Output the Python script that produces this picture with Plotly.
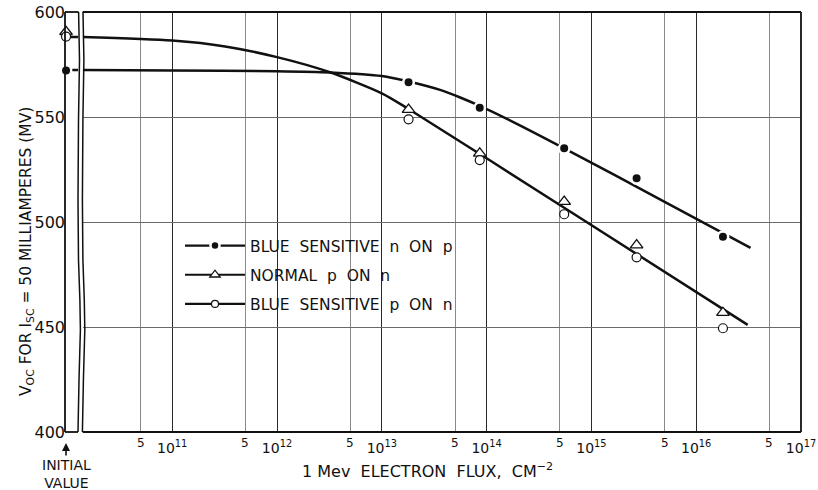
import numpy as np
import plotly.graph_objects as go

# Measured Voc (mV) after 1 MeV electron irradiation, flux in cm^-2
flux_pts = [1.8e13, 8.6e13, 5.5e14, 2.7e15, 1.8e16]
voc_blue_np = [566.5, 554.4, 535.1, 520.8, 493.0]
voc_normal_pn = [553.5, 532.7, 509.7, 489.0, 456.8]
voc_blue_pn = [548.9, 529.5, 503.7, 483.2, 449.4]

# Unirradiated (initial) Voc values, mV
init_blue_np = 572.1
init_normal_pn = 590.6
init_blue_pn = 588.3

# Faired degradation curves
fit_np_flux = [1.4e10, 1e11, 1e12, 3.2e12, 1e13, 1.8e13, 3.6e13, 5.6e13, 8.7e13,
               1.8e14, 5.5e14, 4.8e15, 3.3e16]
fit_np_voc = [572.4, 572.1, 571.8, 571.2, 569.5, 566.9, 562.9, 559.3, 555.2,
              547.6, 535.1, 510.1, 487.7]
fit_pn_flux = [1.4e10, 1e11, 3.2e11, 1e12, 3.2e12, 1e13, 1.74e13, 5.5e14, 3.1e16]
fit_pn_voc = [588.1, 586.4, 583.6, 578.5, 571.3, 561.3, 554.3, 506.8, 451.0]

# Axis ticks
decade_exps = [11, 12, 13, 14, 15, 16, 17]
five_vals = [5e10, 5e11, 5e12, 5e13, 5e14, 5e15, 5e16]
y_ticks = [400, 450, 500, 550, 600]

SP = "\u00a0\u00a0"
series_names = [
    f"BLUE{SP}SENSITIVE{SP}n{SP}ON{SP}p",
    f"NORMAL{SP}p{SP}ON{SP}n",
    f"BLUE{SP}SENSITIVE{SP}p{SP}ON{SP}n",
]

FONT = "DejaVu Sans"
INK = "#111111"

# Page geometry (pixels)
W, H = 818, 490
PX_L, PX_R, PX_T, PX_B = 65, 801, 12, 432
pw, ph = PX_R - PX_L, PX_B - PX_T


def fx(px):
    return (px - PX_L) / pw


def fy(py):
    return (PX_B - py) / ph


main_left = 82.7
box_right = 78.3
x_lo = 17 - (PX_R - main_left) / 104.8

fig = go.Figure()

line_style = dict(color=INK, width=2.5, shape="spline", smoothing=0.7)
fig.add_trace(go.Scatter(x=fit_np_flux, y=fit_np_voc, mode="lines",
                         line=line_style, showlegend=False, hoverinfo="skip"))
fig.add_trace(go.Scatter(x=fit_pn_flux, y=fit_pn_voc, mode="lines",
                         line=line_style, showlegend=False, hoverinfo="skip"))

# short lead-ins of the curves inside the initial-value strip
fig.add_trace(go.Scatter(x=[0.55, 1.0], y=[fit_np_voc[0]] * 2, mode="lines",
                         xaxis="x2", yaxis="y2", line=dict(color=INK, width=2.5),
                         showlegend=False, hoverinfo="skip"))
fig.add_trace(go.Scatter(x=[0.25, 1.0], y=[fit_pn_voc[0]] * 2, mode="lines",
                         xaxis="x2", yaxis="y2", line=dict(color=INK, width=2.5),
                         showlegend=False, hoverinfo="skip"))

m_dot = dict(symbol="circle", size=10.5, color=INK, line=dict(color="white", width=2.5))
m_tri = dict(symbol="triangle-up", size=11, color="white", line=dict(color=INK, width=1.3))
m_ring = dict(symbol="circle", size=9, color="white", line=dict(color=INK, width=1.2))

fig.add_trace(go.Scatter(x=flux_pts, y=voc_normal_pn, mode="markers", marker=m_tri,
                         showlegend=False))
fig.add_trace(go.Scatter(x=flux_pts, y=voc_blue_pn, mode="markers", marker=m_ring,
                         showlegend=False))
fig.add_trace(go.Scatter(x=flux_pts, y=voc_blue_np, mode="markers", marker=m_dot,
                         showlegend=False))

# initial values, plotted on the left edge of the strip
fig.add_trace(go.Scatter(x=[0.08], y=[init_normal_pn], mode="markers", marker=m_tri,
                         xaxis="x2", yaxis="y2", cliponaxis=False, showlegend=False))
fig.add_trace(go.Scatter(x=[0.08], y=[init_blue_pn], mode="markers", marker=m_ring,
                         xaxis="x2", yaxis="y2", cliponaxis=False, showlegend=False))
fig.add_trace(go.Scatter(x=[0.08], y=[init_blue_np], mode="markers",
                         marker=dict(symbol="circle", size=8, color=INK),
                         xaxis="x2", yaxis="y2", cliponaxis=False, showlegend=False))

# legend entries
leg_markers = [dict(m_dot, size=9), dict(m_tri, size=9), dict(m_ring, size=7)]
for i, (nm, mk) in enumerate(zip(series_names, leg_markers)):
    fig.add_trace(go.Scatter(x=[None], y=[None], mode="lines+markers", name=nm,
                             legendgroup=f"g{i}", marker=mk,
                             line=dict(color=INK, width=2.2)))

shapes = []
# white panel behind the legend
shapes.append(dict(type="rect", xref="x", yref="y", x0=11, x1=14, y0=450, y1=500,
                   fillcolor="white", line=dict(color="#2a2a2a", width=1.3), layer="between"))
frame = dict(color=INK, width=1.8)
# main frame: top, bottom, right
shapes.append(dict(type="line", xref="paper", yref="paper", x0=fx(main_left), x1=1, y0=1, y1=1, line=frame))
shapes.append(dict(type="line", xref="paper", yref="paper", x0=fx(main_left), x1=1, y0=0, y1=0, line=frame))
shapes.append(dict(type="line", xref="paper", yref="paper", x0=1, x1=1, y0=0, y1=1, line=frame))
# initial-value strip: left, top, bottom
shapes.append(dict(type="line", xref="paper", yref="paper", x0=0, x1=0, y0=0, y1=1, line=frame))
shapes.append(dict(type="line", xref="paper", yref="paper", x0=0, x1=fx(box_right + 0.3), y0=1, y1=1, line=frame))
shapes.append(dict(type="line", xref="paper", yref="paper", x0=0, x1=fx(box_right - 0.3), y0=0, y1=0, line=frame))
# axis break: two wavy edges
wave = [(0.3, 12), (1.2, 60), (0.2, 120), (-0.3, 200), (0.2, 260), (1.6, 300), (2.1, 330), (0.7, 380), (-0.3, 432)]
for base in (box_right, main_left):
    pts = [f"{fx(base + dx):.5f},{fy(py):.5f}" for dx, py in wave]
    shapes.append(dict(type="path", xref="paper", yref="paper",
                       path="M" + " L".join(pts), line=dict(color=INK, width=1.5)))

annotations = []
for v in five_vals:
    annotations.append(dict(x=np.log10(v), xref="x", y=fy(443), yref="paper", text="5",
                            showarrow=False, font=dict(family=FONT, size=12, color=INK),
                            xanchor="center", yanchor="middle"))
annotations.append(dict(x=fx(15), y=fy(252), xref="paper", yref="paper", textangle=-90,
                        text="V<sub>OC</sub> FOR I<sub>SC</sub> = 50 MILLIAMPERES (MV)",
                        showarrow=False, font=dict(family=FONT, size=15.5, color=INK)))
annotations.append(dict(x=fx(427), y=fy(483), xref="paper", yref="paper",
                        text=f"1 Mev{SP}ELECTRON{SP}FLUX,{SP}CM<sup>\u22122</sup>",
                        showarrow=False, font=dict(family=FONT, size=16, color=INK)))
annotations.append(dict(x=fx(66), y=fy(443), xref="paper", yref="paper",
                        text="INITIAL<br>VALUE", showarrow=True, ax=0, ay=31,
                        arrowhead=2, arrowsize=1, arrowwidth=1.6, arrowcolor=INK,
                        font=dict(family=FONT, size=14, color=INK)))

fig.update_layout(
    width=W, height=H,
    margin=dict(l=PX_L, r=W - PX_R, t=PX_T, b=H - PX_B, autoexpand=False),
    paper_bgcolor="white", plot_bgcolor="white",
    font=dict(family=FONT, color=INK),
    showlegend=True,
    legend=dict(x=fx(180), y=fy(229), xanchor="left", yanchor="top",
                bgcolor="rgba(0,0,0,0)", font=dict(family=FONT, size=15.5, color=INK),
                itemwidth=60, tracegroupgap=6, traceorder="grouped"),
    xaxis=dict(type="log", domain=[fx(main_left), 1], range=[x_lo, 17], anchor="y",
               tickvals=[10.0 ** e for e in decade_exps],
               ticktext=[f"10<sup>{e}</sup>" for e in decade_exps],
               tickfont=dict(family=FONT, size=14, color=INK), ticks="",
               ticklabelstandoff=6,
               showgrid=True, gridcolor="#2a2a2a", gridwidth=1.4,
               minor=dict(tickvals=five_vals, showgrid=True, gridcolor="#8a8a8a",
                          gridwidth=1, ticks=""),
               showline=False, zeroline=False, automargin=False),
    yaxis=dict(anchor="free", position=0, range=[400, 600], tickvals=y_ticks,
               tickfont=dict(family=FONT, size=16, color=INK), ticks="",
               showgrid=True, gridcolor="#6a6a6a", gridwidth=1,
               showline=False, zeroline=False, automargin=False),
    xaxis2=dict(domain=[0, fx(box_right)], range=[0, 1], anchor="y2", visible=False),
    yaxis2=dict(domain=[0, 1], range=[400, 600], anchor="x2", visible=False),
    shapes=shapes,
    annotations=annotations,
)

fig.write_html("out.html")
